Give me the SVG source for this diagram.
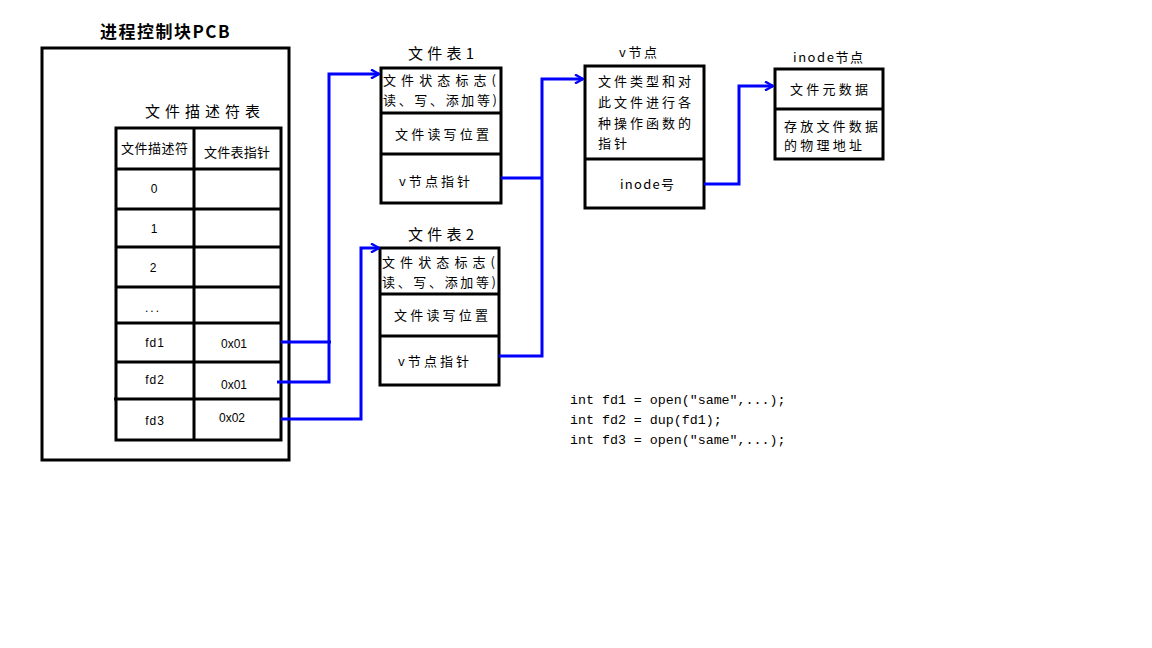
<svg xmlns="http://www.w3.org/2000/svg" width="1152" height="648" viewBox="0 0 1152 648">
  <style>
    .box { fill: #ffffff; stroke: #000000; stroke-width: 3; }
    .sep { stroke: #000000; stroke-width: 3; fill: none; }
    .cn { font-family: "Noto Sans CJK SC", "Liberation Sans", sans-serif; font-size: 13px; fill: #000000; }
    .lat { font-family: "Liberation Sans", "Noto Sans CJK SC", sans-serif; font-size: 12px; fill: #000000; }
    .ttl { font-family: "Noto Sans CJK SC", "Liberation Sans", sans-serif; font-size: 15px; fill: #000000; }
    .code { font-family: "Liberation Mono", monospace; font-size: 13.3px; fill: #000000; }
    .link { fill: none; stroke: #0000ff; stroke-width: 3; }
  </style>
  <defs>
    <marker id="chev" viewBox="0 0 10 10" refX="9" refY="5" markerWidth="10" markerHeight="10" markerUnits="userSpaceOnUse" orient="auto">
      <path d="M1,0.5 L9,5 L1,9.5" fill="none" stroke="#0000ff" stroke-width="2.4"/>
    </marker>
  </defs>
  <rect width="1152" height="648" fill="#ffffff"/>

  <!-- process control block with its descriptor table -->
  <g id="pcb">
    <text x="100" y="38" font-family="Noto Sans CJK SC, Liberation Sans, sans-serif" font-weight="bold" font-size="17" letter-spacing="1.5">进程控制块PCB</text>
    <rect class="box" x="42" y="48" width="247" height="412"/>
    <text class="ttl" x="145" y="117" font-size="16" textLength="115" lengthAdjust="spacing">文件描述符表</text>
  </g>

  <g id="fd-table">
    <rect class="box" x="116" y="128" width="165" height="312"/>
    <path class="sep" d="M194,128 V440 M116,169 H281 M116,209 H281 M116,247 H281 M116,287 H281 M116,323 H281 M116,362 H281 M114,399 H281"/>
    <text class="cn" x="121" y="153" font-size="10" textLength="67" lengthAdjust="spacing">文件描述符</text>
    <text class="cn" x="204" y="157" font-size="10" textLength="66" lengthAdjust="spacing">文件表指针</text>
    <text class="lat" x="154" y="193" text-anchor="middle">0</text>
    <text class="lat" x="154" y="233" text-anchor="middle">1</text>
    <text class="lat" x="153" y="272" text-anchor="middle">2</text>
    <text class="lat" x="153" y="312" text-anchor="middle" letter-spacing="2">...</text>
    <text class="lat" x="155" y="347" text-anchor="middle" letter-spacing="1">fd1</text>
    <text class="lat" x="155" y="384" text-anchor="middle" letter-spacing="1">fd2</text>
    <text class="lat" x="155" y="425" text-anchor="middle" letter-spacing="1">fd3</text>
    <text class="lat" x="234" y="348" text-anchor="middle">0x01</text>
    <text class="lat" x="234" y="389" text-anchor="middle">0x01</text>
    <text class="lat" x="232" y="422" text-anchor="middle">0x02</text>
  </g>

  <!-- open file table entry 1 -->
  <g id="file-table-1">
    <text class="ttl" x="441" y="59" text-anchor="middle" textLength="66" lengthAdjust="spacing">文件表1</text>
    <rect class="box" x="381" y="68" width="120" height="135"/>
    <path class="sep" d="M381,113 H501 M381,154 H501"/>
    <text class="cn" x="383" y="85" textLength="113" lengthAdjust="spacing">文件状态标志(</text>
    <text class="cn" x="383" y="105" textLength="114" lengthAdjust="spacing">读、写、添加等)</text>
    <text class="cn" x="395" y="139" textLength="94" lengthAdjust="spacing">文件读写位置</text>
    <text class="cn" x="399" y="186" textLength="71" lengthAdjust="spacing">v节点指针</text>
  </g>

  <!-- open file table entry 2 -->
  <g id="file-table-2">
    <text class="ttl" x="441" y="240" text-anchor="middle" textLength="66" lengthAdjust="spacing">文件表2</text>
    <rect class="box" x="380" y="248" width="119" height="137"/>
    <path class="sep" d="M380,294 H499 M380,336 H499"/>
    <text class="cn" x="382" y="267" textLength="113" lengthAdjust="spacing">文件状态标志(</text>
    <text class="cn" x="382" y="287" textLength="114" lengthAdjust="spacing">读、写、添加等)</text>
    <text class="cn" x="394" y="320" textLength="94" lengthAdjust="spacing">文件读写位置</text>
    <text class="cn" x="398" y="366" textLength="71" lengthAdjust="spacing">v节点指针</text>
  </g>

  <!-- v-node -->
  <g id="vnode">
    <text class="cn" x="638" y="57" text-anchor="middle" font-size="14" textLength="38" lengthAdjust="spacing">v节点</text>
    <rect class="box" x="585" y="66" width="119" height="142"/>
    <path class="sep" d="M585,159 H704"/>
    <text class="cn" x="598" y="86" textLength="93" lengthAdjust="spacing">文件类型和对</text>
    <text class="cn" x="598" y="107" textLength="93" lengthAdjust="spacing">此文件进行各</text>
    <text class="cn" x="598" y="128" textLength="93" lengthAdjust="spacing">种操作函数的</text>
    <text class="cn" x="598" y="148" textLength="29" lengthAdjust="spacing">指针</text>
    <text class="cn" x="620" y="189" textLength="54" lengthAdjust="spacing">inode号</text>
  </g>

  <!-- inode -->
  <g id="inode">
    <text class="cn" x="828" y="62" text-anchor="middle" font-size="14" textLength="70" lengthAdjust="spacing">inode节点</text>
    <rect class="box" x="775" y="69" width="108" height="90"/>
    <path class="sep" d="M775,109 H883"/>
    <text class="cn" x="790" y="94" textLength="78" lengthAdjust="spacing">文件元数据</text>
    <text class="cn" x="784" y="131" textLength="94" lengthAdjust="spacing">存放文件数据</text>
    <text class="cn" x="784" y="150" textLength="78" lengthAdjust="spacing">的物理地址</text>
  </g>

  <!-- pointer links -->
  <g id="connectors">
    <path class="link" d="M281,342 H331"/>
    <path class="link" d="M277,382 H329 V74 H379" marker-end="url(#chev)"/>
    <path class="link" d="M281,419 H361 V248 H379" marker-end="url(#chev)"/>
    <path class="link" d="M501,178 H542"/>
    <path class="link" d="M499,356 H542 V79 H583" marker-end="url(#chev)"/>
    <path class="link" d="M704,184 H739 V86 H773" marker-end="url(#chev)"/>
  </g>

  <!-- source lines -->
  <g id="code">
    <text class="code" x="570" y="404" xml:space="preserve">int fd1 = open("same",...);</text>
    <text class="code" x="570" y="424" xml:space="preserve">int fd2 = dup(fd1);</text>
    <text class="code" x="570" y="444" xml:space="preserve">int fd3 = open("same",...);</text>
  </g>
</svg>
